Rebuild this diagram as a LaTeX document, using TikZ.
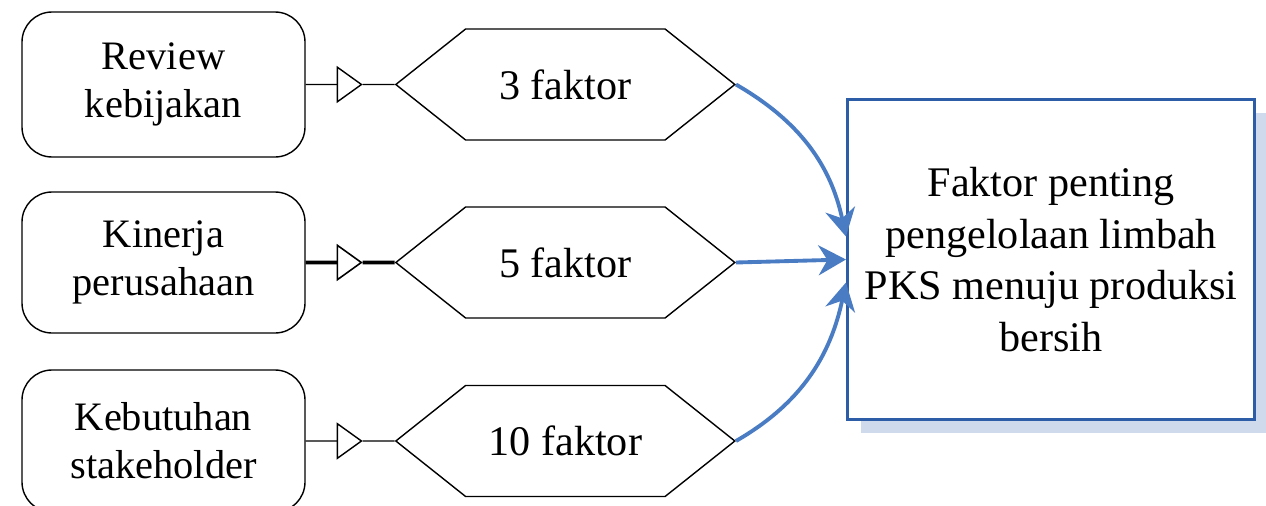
\documentclass[tikz,border=0pt]{standalone}
\usepackage{fontspec}
\setmainfont{Liberation Serif}
\usetikzlibrary{positioning,calc,arrows.meta,shapes.symbols,shadows}
\definecolor{boxblue}{HTML}{2E5DA8}
\definecolor{arrblue}{HTML}{4A7CC4}
\definecolor{shadowblue}{HTML}{CFDAEC}

\begin{document}
\begin{tikzpicture}[node distance=1.78cm, line width=0.8pt,
  font=\fontsize{23}{27.5}\selectfont]
    \useasboundingbox (0,0) rectangle (25.32,-10.1);
    \node[draw, rounded corners=0.6cm, minimum width=5.66cm, minimum height=2.9cm, align=center] (review) at (3.27,-1.69) {Review\\kebijakan};
    \node[draw, rounded corners=0.6cm, minimum width=5.66cm, minimum height=2.82cm, align=center] (kinerja) at (3.27,-5.25) {Kinerja\\perusahaan};
    \node[draw, rounded corners=0.6cm, minimum width=5.66cm, minimum height=2.84cm, align=center] (kebutuhan) at (3.27,-8.82) {Kebutuhan\\stakeholder};
    \node[draw, shape=signal, signal to=west and east, signal pointer angle=77, minimum width=6.78cm, minimum height=2.22cm, inner sep=0pt, font=\fontsize{24}{28}\selectfont, right = of review] (f3) {3 faktor};
    \node[draw, shape=signal, signal to=west and east, signal pointer angle=77, minimum width=6.78cm, minimum height=2.22cm, inner sep=0pt, font=\fontsize{24}{28}\selectfont, right = of kinerja] (f5) {5 faktor};
    \node[draw, shape=signal, signal to=west and east, signal pointer angle=77, minimum width=6.78cm, minimum height=2.22cm, inner sep=0pt, font=\fontsize{24}{28}\selectfont, right = of kebutuhan] (f10) {10 faktor};
    \node[draw=boxblue, line width=2pt, fill=white, drop shadow={shadow xshift=0.26cm, shadow yshift=-0.26cm, fill=shadowblue, opacity=1}, minimum width=8.14cm, minimum height=6.4cm, align=center, font=\fontsize{24}{29.5}\selectfont, right = 2.2cm of f5, yshift=0.06cm] (penting) {Faktor penting\\pengelolaan limbah\\PKS menuju produksi\\bersih};
    %
    \coordinate (t3) at ($(review.east)!0.64!(f3.west)$);
    \coordinate (t5) at ($(kinerja.east)!0.64!(f5.west)$);
    \coordinate (t10) at ($(kebutuhan.east)!0.64!(f10.west)$);
    \draw[-{Triangle[open, length=0.52cm, width=0.74cm]}] (review.east) -- (t3);
    \draw (t3) -- (f3.west);
    \draw[line width=2pt, -{Triangle[open, length=0.52cm, width=0.74cm, line width=0.9pt]}] (kinerja.east) -- (t5);
    \draw[line width=2pt] (t5) -- (f5.west);
    \draw[-{Triangle[open, length=0.52cm, width=0.74cm]}] (kebutuhan.east) -- (t10);
    \draw (t10) -- (f10.west);
    %
    \draw[arrblue, line width=2.2pt, -{Stealth[length=0.55cm, width=0.6cm]}] (f3.east) to[out=-30, in=102] ([yshift=0.46cm]penting.west);
    \draw[arrblue, line width=2.2pt, -{Stealth[length=0.55cm, width=0.6cm]}] (f5.east) -- (penting.west);
    \draw[arrblue, line width=2.2pt, -{Stealth[length=0.55cm, width=0.6cm]}] (f10.east) to[out=30, in=-102] ([yshift=-0.46cm]penting.west);
  \end{tikzpicture}
\end{document}
